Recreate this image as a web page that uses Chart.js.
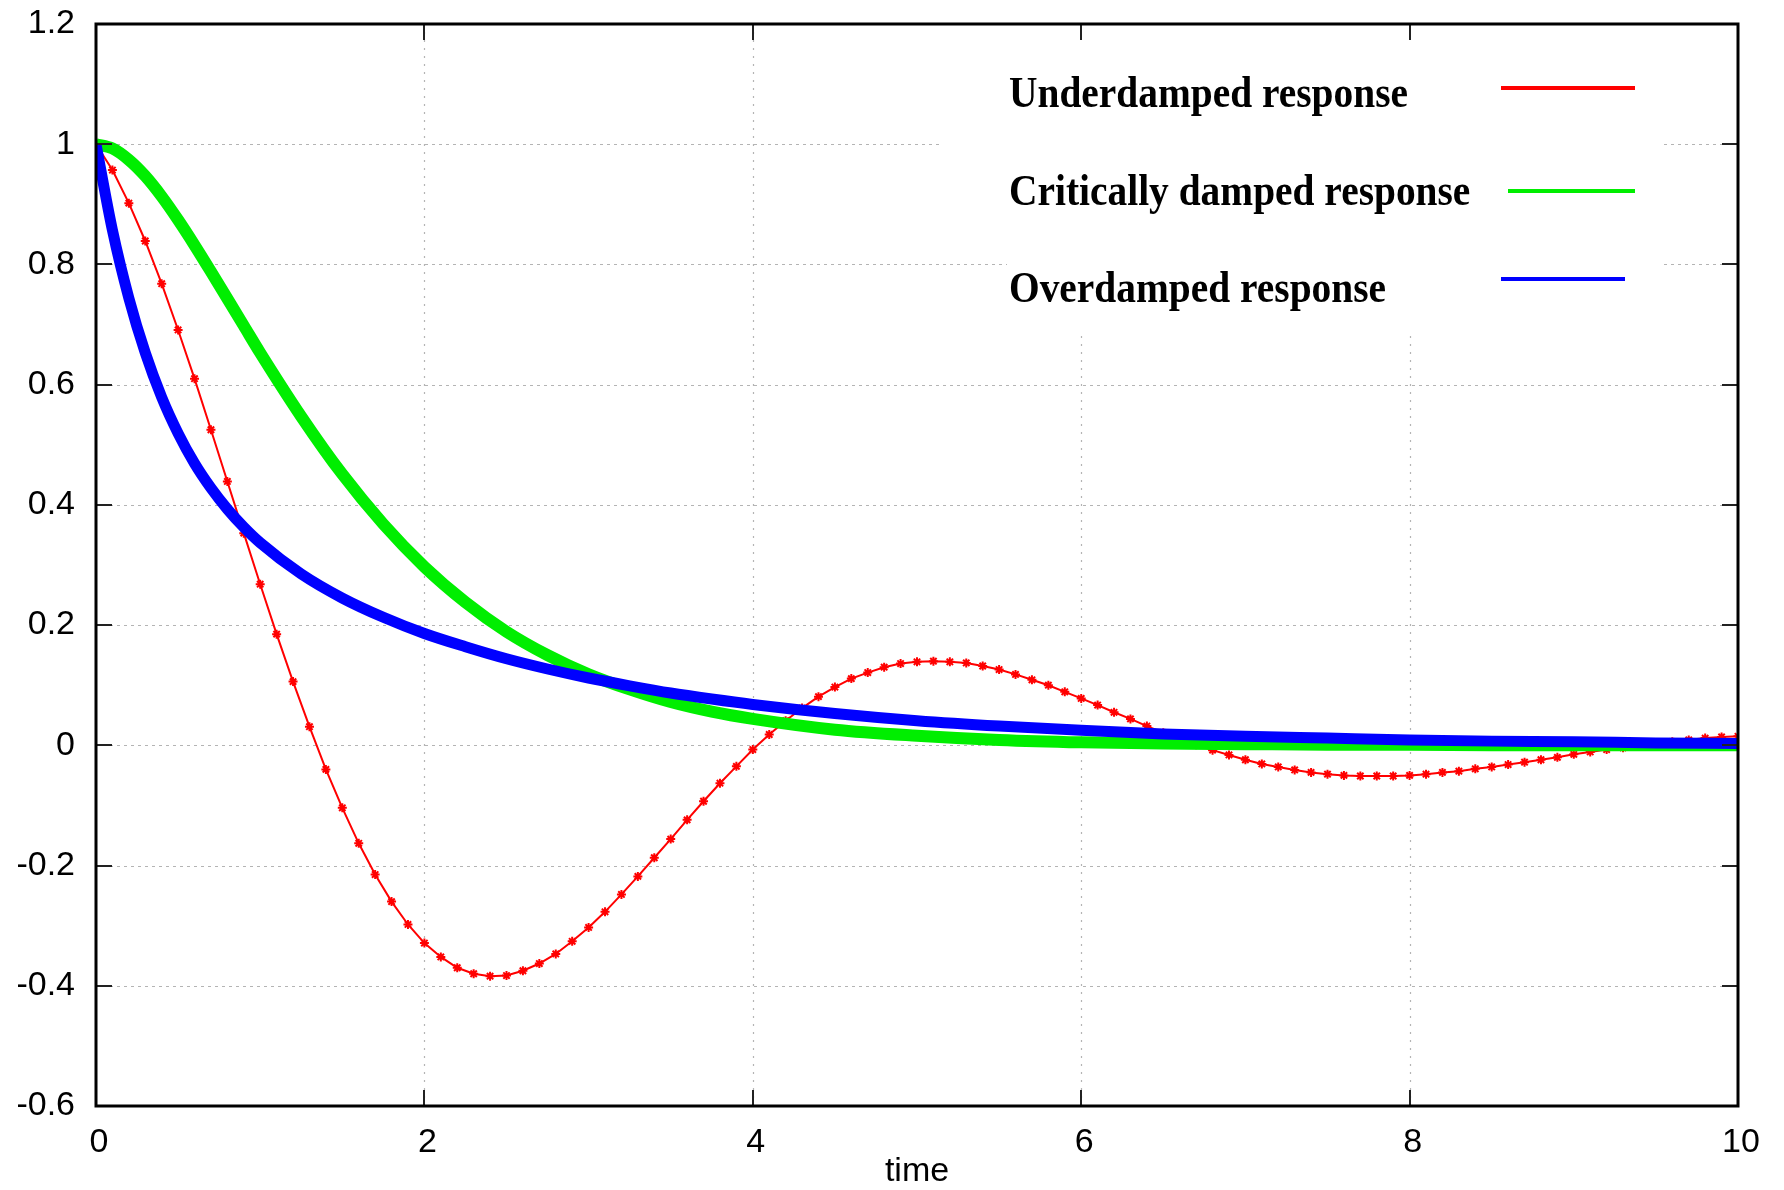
<!DOCTYPE html>
<html><head><meta charset="utf-8">
<script src="https://cdn.jsdelivr.net/npm/chart.js@4"></script>
<style>html,body{margin:0;padding:0;background:#fff;} #wrap{width:1784px;height:1190px;}</style>
</head><body><div id="wrap"><canvas id="c" width="1784" height="1190"></canvas></div>
<script>
// ---- data ----
const underTime = [
0.0,0.1,0.2,0.3,0.4,0.5,0.6,0.7,0.8,0.9,
1.0,1.1,1.2,1.3,1.4,1.5,1.6,1.7,1.8,1.9,
2.0,2.1,2.2,2.3,2.4,2.5,2.6,2.7,2.8,2.9,
3.0,3.1,3.2,3.3,3.4,3.5,3.6,3.7,3.8,3.9,
4.0,4.1,4.2,4.3,4.4,4.5,4.6,4.7,4.8,4.9,
5.0,5.1,5.2,5.3,5.4,5.5,5.6,5.7,5.8,5.9,
6.0,6.1,6.2,6.3,6.4,6.5,6.6,6.7,6.8,6.9,
7.0,7.1,7.2,7.3,7.4,7.5,7.6,7.7,7.8,7.9,
8.0,8.1,8.2,8.3,8.4,8.5,8.6,8.7,8.8,8.9,
9.0,9.1,9.2,9.3,9.4,9.5,9.6,9.7,9.8,9.9,
10.0];
const underdamped = [
1.000,0.957,0.902,0.839,0.768,0.691,0.610,0.525,0.439,0.353,
0.268,0.185,0.106,0.031,-0.040,-0.104,-0.163,-0.215,-0.260,-0.298,
-0.329,-0.352,-0.370,-0.380,-0.384,-0.383,-0.375,-0.363,-0.347,-0.326,
-0.303,-0.277,-0.248,-0.218,-0.187,-0.156,-0.124,-0.093,-0.063,-0.035,
-0.007,0.018,0.041,0.062,0.081,0.097,0.111,0.121,0.130,0.136,
0.139,0.140,0.139,0.137,0.132,0.126,0.118,0.109,0.100,0.089,
0.078,0.067,0.055,0.044,0.032,0.021,0.011,0.001,-0.008,-0.016,
-0.024,-0.031,-0.036,-0.041,-0.045,-0.048,-0.050,-0.051,-0.051,-0.051,
-0.050,-0.048,-0.045,-0.043,-0.039,-0.036,-0.032,-0.028,-0.024,-0.020,
-0.015,-0.011,-0.007,-0.004,0.000,0.003,0.006,0.009,0.012,0.014,
0.015];
const smoothTime = [0,0.1,0.2,0.3,0.4,0.5,0.6,0.7,0.8,0.9,1.0,
1.25,1.5,1.75,2.0,2.25,2.5,2.75,3.0,3.25,3.5,3.75,4.0,
4.5,5.0,5.5,6.0,6.5,7.0,7.5,8.0,8.5,9.0,9.5,10.0];
const criticallyDamped = [1.000,0.993,0.974,0.947,0.913,0.874,0.832,0.788,0.743,0.698,0.653,
0.547,0.451,0.368,0.297,0.238,0.189,0.150,0.118,0.093,0.072,0.056,0.044,
0.026,0.016,0.009,0.005,0.003,0.002,0.001,0.001,0.000,0.000,0.000,0.000];
const overdamped = [1.000,0.857,0.744,0.653,0.579,0.519,0.469,0.428,0.393,0.363,0.337,
0.285,0.245,0.213,0.186,0.164,0.144,0.127,0.112,0.099,0.087,0.077,0.068,
0.053,0.041,0.032,0.025,0.019,0.015,0.012,0.009,0.007,0.006,0.004,0.003];
const seriesNames = ['Underdamped response','Critically damped response','Overdamped response'];
const xTickValues = [0,2,4,6,8,10];
const xTickLabels = ['0','2','4','6','8','10'];
const yTickValues = [-0.6,-0.4,-0.2,0,0.2,0.4,0.6,0.8,1.0,1.2];
const yTickLabels = ['-0.6','-0.4','-0.2','0','0.2','0.4','0.6','0.8','1','1.2'];
const xTitle = 'time';

const toXY = (ts, vs) => ts.map((t, i) => ({x: t, y: vs[i]}));
const colors = ['#ff0000', '#00ee00', '#0000ff'];

const framePlugin = {
  id: 'frame',
  beforeDatasetsDraw(chart) {
    const {ctx, chartArea: a, scales: {x, y}} = chart;
    ctx.save();
    ctx.strokeStyle = '#b4b4b4';
    ctx.lineWidth = 1.2;
    ctx.setLineDash([3, 4]);
    yTickValues.forEach(v => {
      const py = Math.round(y.getPixelForValue(v)) + 0.5;
      if (py <= a.top + 2 || py >= a.bottom - 2) return;
      ctx.beginPath(); ctx.moveTo(a.left, py); ctx.lineTo(a.right, py); ctx.stroke();
    });
    ctx.setLineDash([2, 6]);
    xTickValues.forEach(v => {
      const px = Math.round(x.getPixelForValue(v)) + 0.5;
      if (px <= a.left + 2 || px >= a.right - 2) return;
      ctx.beginPath(); ctx.moveTo(px, a.top); ctx.lineTo(px, a.bottom); ctx.stroke();
    });
    ctx.setLineDash([]);
    // opaque key area
    ctx.fillStyle = '#fff';
    ctx.fillRect(942, a.top + 2, 1661 - 942, 240 - a.top);
    ctx.fillRect(1007, 240, 1661 - 1007, 330 - 240);
    ctx.restore();
  },
  afterDatasetsDraw(chart) {
    const {ctx, chartArea: a, scales: {x, y}} = chart;
    ctx.save();
    // inner ticks on all sides
    ctx.strokeStyle = '#222';
    ctx.lineWidth = 2;
    const tl = 16;
    yTickValues.forEach(v => {
      const py = Math.round(y.getPixelForValue(v));
      ctx.beginPath();
      ctx.moveTo(a.left, py); ctx.lineTo(a.left + tl, py);
      ctx.moveTo(a.right - tl, py); ctx.lineTo(a.right, py);
      ctx.stroke();
    });
    xTickValues.forEach(v => {
      const px = Math.round(x.getPixelForValue(v));
      ctx.beginPath();
      ctx.moveTo(px, a.bottom); ctx.lineTo(px, a.bottom - tl);
      ctx.moveTo(px, a.top); ctx.lineTo(px, a.top + tl);
      ctx.stroke();
    });
    // border
    ctx.strokeStyle = '#000';
    ctx.lineWidth = 3;
    ctx.strokeRect(a.left, a.top, a.right - a.left, a.bottom - a.top);
    // key
    const rows = [
      {base: 107, ly: 88, x1: 1501, x2: 1635},
      {base: 205, ly: 191, x1: 1508, x2: 1635},
      {base: 302, ly: 279, x1: 1501, x2: 1625}
    ];
    ctx.font = 'bold 44px "Liberation Serif", "Times New Roman", serif';
    ctx.fillStyle = '#000';
    ctx.textBaseline = 'alphabetic';
    ctx.textAlign = 'left';
    const sx = 399 / ctx.measureText(seriesNames[0]).width;
    rows.forEach((r, i) => {
      ctx.save();
      ctx.translate(1009, r.base);
      ctx.scale(sx, 1);
      ctx.fillText(seriesNames[i], 0, 0);
      ctx.restore();
      ctx.strokeStyle = colors[i];
      ctx.lineWidth = 4;
      ctx.beginPath(); ctx.moveTo(r.x1, r.ly); ctx.lineTo(r.x2, r.ly); ctx.stroke();
    });
    ctx.restore();
  }
};

const tickFont = {family: '"Liberation Sans", Arial, sans-serif', size: 34, lineHeight: 1.2};

new Chart(document.getElementById('c'), {
  type: 'line',
  data: {
    datasets: [
      {label: seriesNames[0], data: toXY(underTime, underdamped), borderColor: colors[0], backgroundColor: colors[0],
       borderWidth: 2, pointStyle: 'star', pointRadius: 4.5, pointBorderWidth: 2, pointBorderColor: colors[0],
       tension: 0, fill: false, order: 3},
      {label: seriesNames[1], data: toXY(smoothTime, criticallyDamped), borderColor: colors[1],
       borderWidth: 12, pointRadius: 0, cubicInterpolationMode: 'monotone', fill: false, order: 2},
      {label: seriesNames[2], data: toXY(smoothTime, overdamped), borderColor: colors[2],
       borderWidth: 11, pointRadius: 0, cubicInterpolationMode: 'monotone', fill: false, order: 1}
    ]
  },
  options: {
    responsive: false, animation: false, devicePixelRatio: 1,
    layout: {padding: {left: 0, right: 46, top: 24, bottom: 0}},
    plugins: {legend: {display: false}, tooltip: {enabled: false}},
    scales: {
      x: {
        type: 'linear', min: 0, max: 10,
        grid: {display: false, drawTicks: false}, border: {display: false},
        afterBuildTicks: s => { s.ticks = xTickValues.map(v => ({value: v})); },
        ticks: {callback: (v, i) => xTickLabels[i], font: tickFont, color: '#000', padding: 16,
                labelOffset: 3, maxRotation: 0, autoSkip: false},
        title: {display: true, text: xTitle, font: {family: tickFont.family, size: 34, lineHeight: 1.1},
                color: '#000', padding: 0},
        afterFit: s => { s.height = 84; s.paddingLeft = 0; s.paddingRight = 0; }
      },
      y: {
        type: 'linear', min: -0.6, max: 1.2,
        grid: {display: false, drawTicks: false}, border: {display: false},
        afterBuildTicks: s => { s.ticks = yTickValues.map(v => ({value: v})); },
        ticks: {callback: (v, i) => yTickLabels[i], font: tickFont, color: '#000', padding: 21, autoSkip: false},
        afterFit: s => { s.width = 96; s.paddingTop = 0; s.paddingBottom = 0; }
      }
    }
  },
  plugins: [framePlugin]
});
</script>
</body></html>
